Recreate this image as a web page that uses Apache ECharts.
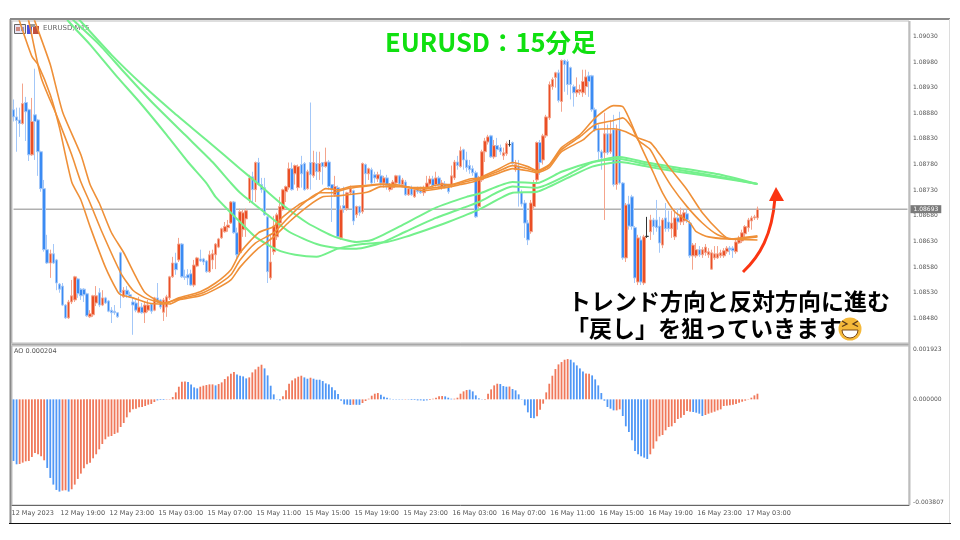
<!DOCTYPE html>
<html>
<head>
<meta charset="utf-8">
<script src="https://cdn.jsdelivr.net/npm/echarts@6/dist/echarts.min.js"></script>
<style>html,body{margin:0;background:#fff}#c{width:960px;height:540px}</style>
</head>
<body>
<div id="c"></div>
<script>
// prices are in points above 1.08000, rows are open, close, low, high
const candles = [
[887,873,864,907],[873,866,805,891],[867,860,834,891],[860,899,858,938],[901,883,826,912],[887,799,787,889],[799,864,797,910],[877,864,789,967],
[867,805,758,869],[805,733,727,807],[733,614,610,750],[614,588,586,643],[588,606,559,614],[606,588,586,625],[594,549,535,596],[547,537,530,549],
[543,506,504,549],[506,481,479,508],[481,512,479,516],[512,524,508,555],[516,561,512,563],[557,528,520,559],[537,524,516,539],[537,526,512,539],
[528,485,483,530],[483,489,481,496],[487,524,483,526],[510,524,504,543],[530,506,502,539],[506,520,504,535],[520,510,508,522],[514,494,492,516],
[496,491,471,502],[494,491,487,506],[491,483,481,491],[608,530,500,610],[522,535,520,541],[535,526,520,543],[526,522,520,532],[512,506,448,520],
[510,496,492,516],[492,502,490,522],[502,491,489,510],[491,506,471,514],[496,506,492,516],[508,494,489,510],[496,520,494,522],[520,512,510,549],
[516,502,498,518],[492,516,475,520],[502,522,483,526],[520,561,516,563],[561,588,559,600],[588,575,565,608],[594,625,590,637],[625,561,559,627],
[561,560,555,575],[565,559,545,576],[567,545,543,575],[545,584,541,594],[582,598,580,600],[596,592,590,614],[596,590,584,598],[592,571,569,594],
[571,604,569,612],[594,606,576,614],[604,625,576,627],[619,635,617,637],[637,655,635,657],[649,659,647,668],[657,662,649,672],[666,707,664,709],
[707,647,645,709],[647,604,594,657],[608,688,604,694],[653,686,639,692],[674,690,639,694],[711,754,705,760],[756,731,707,766],[731,784,707,786],
[784,741,739,793],[741,731,725,754],[735,682,680,754],[678,571,549,680],[559,590,555,643],[610,660,604,680],[639,682,633,686],[666,698,660,717],
[692,731,690,733],[727,737,707,739],[735,772,731,784],[772,731,729,784],[762,778,741,780],[735,776,729,780],[780,762,735,797],[782,731,729,785],
[733,766,731,770],[784,760,731,901],[758,784,754,807],[782,766,750,805],[766,782,750,805],[784,776,741,785],[776,785,774,813],[785,737,731,789],
[741,731,668,742],[721,737,717,758],[735,639,637,739],[637,692,633,700],[700,694,686,737],[694,725,690,727],[725,733,721,739],[729,670,662,731],
[682,698,676,700],[698,686,680,700],[688,782,684,784],[780,762,741,782],[762,772,750,774],[770,744,742,774],[760,754,744,766],[752,760,746,766],
[758,744,739,770],[744,754,735,758],[754,739,731,760],[731,741,727,744],[735,746,731,750],[744,758,742,760],[758,742,739,760],[741,750,737,754],
[746,721,719,750],[721,733,719,737],[733,721,719,739],[717,731,715,735],[731,727,723,737],[729,725,723,737],[725,735,719,739],[735,744,731,758],
[742,752,739,758],[752,739,735,758],[741,754,737,766],[754,739,737,758],[735,744,731,750],[742,737,735,748],[739,727,723,742],[739,758,735,778],
[754,785,750,789],[785,778,770,797],[776,807,774,815],[809,789,770,811],[789,774,766,805],[778,770,762,789],[772,764,758,778],[764,678,676,768],
[698,754,694,758],[750,805,746,809],[805,826,785,832],[824,834,819,838],[836,795,793,838],[795,817,791,828],[817,809,795,832],[813,805,799,819],
[797,803,789,813],[801,821,797,825],[819,819,815,828],[823,782,780,825],[770,780,766,789],[776,725,698,789],[725,703,698,731],[705,666,637,711],
[666,633,623,672],[649,705,645,711],[698,744,694,750],[750,823,746,825],[823,784,760,828],[789,836,780,840],[836,873,832,877],[871,936,867,942],
[932,946,926,950],[950,959,930,961],[959,905,901,965],[903,983,883,985],[983,975,922,985],[981,936,916,985],[969,936,907,971],[932,920,893,936],
[920,926,912,950],[922,926,916,936],[920,942,912,965],[932,951,916,965],[953,942,912,961],[953,887,883,955],[887,848,844,891],[848,805,785,858],
[805,793,770,809],[803,840,672,881],[840,803,799,858],[805,840,801,867],[848,741,737,877],[741,848,731,858],[848,744,741,883],[744,598,594,746],
[598,701,590,705],[703,660,653,719],[717,659,653,721],[657,559,549,660],[551,637,545,643],[633,551,545,641],[549,639,545,643],[640,640,637,678],
[649,672,633,682],[672,659,643,676],[672,657,649,711],[660,627,608,678],[623,672,617,676],[676,655,649,705],[668,655,649,690],[655,666,637,690],
[639,676,633,694],[676,668,653,694],[668,682,662,696],[670,686,662,692],[684,672,666,692],[666,602,598,672],[602,623,575,627],[602,614,598,627],
[614,604,600,621],[604,614,598,619],[608,619,602,625],[604,610,598,617],[576,608,575,614],[598,606,594,621],[598,606,596,621],[602,608,598,614],
[602,612,598,617],[610,617,606,621],[617,614,604,621],[617,612,598,621],[610,629,606,633],[627,633,625,641],[631,647,627,653],[645,659,633,662],
[657,672,649,676],[670,676,653,680],[676,678,672,682],[676,693,672,698]
];

// moving averages, read at their bends as [bar, points above 1.08000]
const maOrange1 = [[1,1078],[2,1059],[6,991],[8,975],[12,916],[15,852],[19,746],[22,711],[25,659],[30,580],[34,532],[35,526],[39,520],[44,510],[49,508],[54,520],[61,532],[66,549],[71,575],[74,608],[80,647],[85,659],[88,678],[93,701],[98,717],[102,733],[106,731],[110,737],[115,739],[120,742],[125,741],[130,735],[135,735],[139,741],[143,741],[149,752],[152,754],[158,770],[163,784],[168,776],[171,768],[175,780],[179,813],[185,838],[190,871],[196,895],[199,893],[201,871],[205,815],[209,764],[212,725],[216,688],[221,666],[223,649],[227,639],[233,635],[243,633]];
const maOrange2 = [[4,1078],[5,1059],[9,950],[14,877],[19,799],[22,746],[25,705],[29,647],[35,569],[39,535],[43,520],[49,510],[54,518],[61,528],[66,543],[71,565],[74,594],[79,627],[85,647],[89,672],[94,701],[100,725],[104,725],[109,733],[114,737],[120,741],[127,737],[134,733],[140,737],[146,744],[150,750],[152,752],[158,766],[163,778],[168,772],[171,766],[175,778],[179,809],[185,834],[190,858],[196,866],[199,871],[202,852],[204,828],[208,809],[211,776],[215,737],[220,698],[225,666],[230,643],[235,635],[243,639]];
const maOrange3 = [[6,1078],[7,1059],[12,975],[16,883],[22,799],[25,741],[28,705],[32,647],[36,608],[40,561],[43,530],[48,512],[51,508],[54,516],[61,524],[66,537],[71,555],[74,580],[80,617],[85,639],[90,668],[96,698],[101,717],[106,719],[112,723],[116,727],[120,737],[128,737],[134,729],[141,735],[146,741],[150,746],[152,750],[158,762],[163,772],[168,768],[171,764],[175,774],[179,805],[186,828],[190,848],[196,850],[200,844],[204,832],[208,823],[210,809],[214,776],[220,731],[225,686],[231,647],[234,635],[243,641]];
const maGreen1 = [[16,1078],[18,1059],[25,1014],[34,950],[41,903],[50,838],[57,785],[63,744],[66,717],[71,686],[74,668],[79,639],[86,614],[92,604],[99,600],[106,616],[114,625],[122,629],[128,639],[135,653],[142,668],[152,692],[163,725],[171,727],[181,754],[189,776],[198,785],[207,776],[217,766],[231,754],[243,742]];
const maGreen2 = [[17,1078],[20,1059],[28,1014],[36,961],[45,903],[56,838],[65,785],[71,744],[74,725],[83,682],[90,649],[99,625],[106,617],[112,616],[120,627],[128,649],[138,676],[148,698],[152,707],[163,737],[171,735],[181,760],[189,784],[198,791],[207,780],[217,770],[231,756],[243,742]];
const maGreen3 = [[19,1078],[22,1059],[32,994],[42,936],[52,883],[63,828],[74,772],[81,737],[88,701],[96,666],[105,639],[112,629],[117,633],[126,659],[138,696],[148,717],[152,723],[163,746],[171,744],[179,766],[189,785],[198,795],[207,784],[217,774],[231,760],[243,742]];

// awesome oscillator in millionths
const aoValues = [
-2220,-2340,-2328,-2280,-2232,-2220,-2076,-1932,-1980,-2052,-2196,-2472,-2832,-3072,-3264,-3324,
-3288,-3276,-3324,-3240,-3072,-2868,-2676,-2484,-2340,-2280,-2124,-1980,-1800,-1608,-1440,-1344,
-1320,-1248,-1200,-996,-852,-648,-468,-360,-336,-288,-276,-240,-192,-168,-96,-36,
-24,-24,-12,-12,84,252,456,636,648,624,540,432,396,456,492,516,
540,540,504,552,612,732,828,924,984,900,852,828,756,792,972,1080,
1176,1248,1116,864,492,180,-12,-36,108,324,564,684,756,816,852,792,
744,780,744,708,708,660,576,540,432,324,192,-48,-180,-192,-204,-192,
-196,-198,-132,-60,24,132,204,228,168,96,60,24,12,-12,-12,-12,
12,-12,-24,-24,-36,-36,-48,-36,-24,24,60,112,120,108,60,24,
24,60,204,288,336,348,288,144,36,12,-12,204,360,504,564,552,
480,456,462,372,324,180,-12,-216,-468,-672,-684,-612,-372,-156,252,564,
852,1092,1260,1344,1428,1452,1428,1332,1224,1116,1008,936,924,864,720,504,
228,-48,-276,-336,-396,-396,-360,-600,-972,-1176,-1476,-1860,-1980,-2052,-2100,-2148,
-1980,-1776,-1512,-1332,-1284,-1116,-996,-972,-852,-708,-660,-564,-420,-444,-456,-480,
-516,-600,-564,-516,-480,-444,-396,-360,-240,-228,-216,-192,-168,-120,-84,-48,
-12,60,144,204
];
// bar ranges the terminal paints blue, all others are red
const aoBlueRuns = [[0,1],[11,15],[18,18],[47,49],[57,60],[66,66],[73,76],[82,87],[95,96],[98,110],[112,113],[120,127],[129,135],[141,143],[149,153],[159,161],[163,170],[182,186],[189,196],[199,207],[222,225]];

const timeLabels = ['12 May 2023','12 May 19:00','12 May 23:00','15 May 03:00','15 May 07:00','15 May 11:00','15 May 15:00','15 May 19:00','15 May 23:00','16 May 03:00','16 May 07:00','16 May 11:00','16 May 15:00','16 May 19:00','16 May 23:00','17 May 03:00'];
const priceTicks = [1.0848,1.0853,1.0858,1.0863,1.0868,1.0873,1.0878,1.0883,1.0888,1.0893,1.0898,1.0903];
const aoTicks = [-0.003807,0,0.001923];
const lastPrice = 1.08693;
const lastAo = 0.000204;

const RED = '#ea4f26', BLUE = '#3b8bf3';
const barSlots = 293; // bars that fit the window, the right part stays empty
const cats = [];
for (let i = 0; i < barSlots; i++) cats.push(i % 16 === 0 && timeLabels[i / 16] ? timeLabels[i / 16] : '');
const hasTime = i => i % 16 === 0 && i / 16 < timeLabels.length;
const pt = p => 1.08 + p / 1e5;
const isBlue = i => aoBlueRuns.some(r => i >= r[0] && i <= r[1]);

const maLine = (data, color, width) => ({
  type: 'line', xAxisIndex: 0, yAxisIndex: 0, showSymbol: false, smooth: 0.2, silent: true,
  lineStyle: { color, width }, data: data.map(d => [d[0], pt(d[1])]), z: 5
});

const sideLabel = { fontFamily: 'DejaVu Sans', fontSize: 6, color: '#555', margin: 4 };
const sideTick = { length: 3, lineStyle: { color: '#444', width: 1 } };

const chart = echarts.init(document.getElementById('c'), null, { renderer: 'canvas' });
chart.setOption({
  animation: false,
  backgroundColor: '#fff',
  title: {
    text: 'EURUSD：15分足', left: 380, top: 25,
    textStyle: { color: '#10e010', fontSize: 25.5, fontWeight: 'bold', fontFamily: 'Noto Sans CJK JP' }
  },
  grid: [
    { left: 12, right: 51, top: 21, height: 322, show: true, backgroundColor: '#fff', borderColor: '#bdbdbd', borderWidth: 1 },
    { left: 12, right: 51, top: 346, height: 159, show: true, backgroundColor: '#fff', borderColor: '#bdbdbd', borderWidth: 1 }
  ],
  xAxis: [
    { type: 'category', data: cats, gridIndex: 0, axisLine: { show: false }, axisTick: { show: false }, axisLabel: { show: false }, splitLine: { show: false } },
    {
      type: 'category', data: cats, gridIndex: 1,
      axisLine: { onZero: false, lineStyle: { color: '#666', width: 1 } },
      axisTick: { length: 2, interval: hasTime, lineStyle: { color: '#666' } },
      axisLabel: {
        interval: hasTime, align: 'left', margin: 5, padding: [0, 0, 0, -2],
        fontFamily: 'DejaVu Sans', fontSize: 6.5, color: '#555', hideOverlap: false
      },
      splitLine: { show: false }
    }
  ],
  yAxis: [
    {
      type: 'value', gridIndex: 0, position: 'right', min: 1.08432, max: 1.0906, scale: true,
      axisLine: { show: false }, axisTick: { ...sideTick, customValues: priceTicks }, splitLine: { show: false },
      axisLabel: { ...sideLabel, customValues: priceTicks, formatter: v => v.toFixed(5) }
    },
    {
      type: 'value', gridIndex: 1, position: 'right', min: -0.003807, max: 0.001923,
      axisLine: { show: false }, axisTick: { ...sideTick, customValues: aoTicks }, splitLine: { show: false },
      axisLabel: {
        ...sideLabel, customValues: aoTicks, formatter: v => v.toFixed(6),
        verticalAlignMaxLabel: 'top', verticalAlignMinLabel: 'bottom'
      }
    }
  ],
  series: [
    // last price line with its tag on the price scale
    {
      type: 'line', xAxisIndex: 0, yAxisIndex: 0, showSymbol: false, silent: true, z: 2,
      data: [[0, lastPrice], [barSlots - 1, lastPrice]],
      lineStyle: { color: '#8a8a8a', width: 1 },
      endLabel: {
        show: true, distance: 3, formatter: lastPrice.toFixed(5), color: '#fff', fontFamily: 'DejaVu Sans', fontSize: 6,
        backgroundColor: '#7a7a7a', padding: [1, 3, 1, 3]
      }
    },
    {
      type: 'candlestick', xAxisIndex: 0, yAxisIndex: 0, barWidth: 3, silent: true, z: 3,
      data: candles.map(c => c.map(pt)),
      itemStyle: { color: RED, color0: BLUE, borderColor: '#f4a48c', borderColor0: '#a3c7f8', borderColorDoji: '#333', borderWidth: 1 }
    },
    maLine(maGreen1, '#74f08c', 2), maLine(maGreen2, '#74f08c', 2), maLine(maGreen3, '#74f08c', 2),
    maLine(maOrange1, '#ef9038', 1.6), maLine(maOrange2, '#ef9038', 1.6), maLine(maOrange3, '#ef9038', 1.6),
    {
      type: 'bar', xAxisIndex: 1, yAxisIndex: 1, barWidth: 1.8, silent: true,
      data: aoValues.map((v, i) => ({ value: v / 1e6, itemStyle: { color: isBlue(i) ? '#4f97f6' : '#f0785a' } }))
    }
  ],
  graphic: [
    // terminal window edges
    { type: 'line', shape: { x1: 10, y1: 19, x2: 950, y2: 19 }, style: { stroke: '#8a8a8a', lineWidth: 2 } },
    { type: 'line', shape: { x1: 10.5, y1: 19, x2: 10.5, y2: 523 }, style: { stroke: '#8a8a8a', lineWidth: 2 } },
    { type: 'line', shape: { x1: 949.5, y1: 19, x2: 949.5, y2: 523 }, style: { stroke: '#dcdcdc', lineWidth: 1 } },
    { type: 'line', shape: { x1: 9, y1: 523.5, x2: 951, y2: 523.5 }, style: { stroke: '#111', lineWidth: 1 } },
    { type: 'line', shape: { x1: 12, y1: 344.5, x2: 910, y2: 344.5 }, style: { stroke: '#a8a8a8', lineWidth: 2 } },
    { type: 'line', shape: { x1: 909.5, y1: 21, x2: 909.5, y2: 505 }, style: { stroke: '#bdbdbd', lineWidth: 2 } },
    // chart window icons
    { type: 'rect', shape: { x: 14.5, y: 24.5, width: 11, height: 9 }, style: { fill: '#e8e4f4', stroke: '#666', lineWidth: 1 } },
    { type: 'rect', shape: { x: 16, y: 27, width: 4, height: 4 }, style: { fill: '#d08a80' } },
    { type: 'rect', shape: { x: 21, y: 27, width: 3, height: 4 }, style: { fill: '#8a90d8' } },
    { type: 'rect', shape: { x: 27, y: 25, width: 5, height: 9 }, style: { fill: '#4a4fe0' } },
    { type: 'rect', shape: { x: 33, y: 26, width: 6, height: 8 }, style: { fill: '#c05040' } },
    { type: 'rect', shape: { x: 30, y: 24, width: 5, height: 3 }, style: { fill: '#999' } },
    { type: 'text', style: { x: 43, y: 25, text: 'EURUSD,M15', font: '7px "DejaVu Sans"', fill: '#666' } },
    { type: 'text', style: { x: 14, y: 348, text: 'AO ' + lastAo.toFixed(6), font: '6.5px "DejaVu Sans"', fill: '#555' } },
    // commentary
    { type: 'text', style: { x: 568, y: 290, text: 'トレンド方向と反対方向に進む', font: 'bold 23px "Noto Sans CJK JP"', fill: '#000' } },
    { type: 'text', style: { x: 566, y: 317, text: '「戻し」を狙っていきます', font: 'bold 23px "Noto Sans CJK JP"', fill: '#000' } },
    // grinning face
    { type: 'circle', shape: { cx: 850, cy: 329, r: 11.5 }, style: { fill: '#f5b93a' } },
    { type: 'sector', shape: { cx: 850, cy: 330, r: 8, r0: 0, startAngle: 0, endAngle: Math.PI }, style: { fill: '#fff', stroke: '#7a4a1a', lineWidth: 1 } },
    { type: 'polyline', shape: { points: [[842, 321], [847, 324], [842, 326.5]] }, style: { fill: 'none', stroke: '#5a3a1a', lineWidth: 1.3 } },
    { type: 'polyline', shape: { points: [[858, 321], [853, 324], [858, 326.5]] }, style: { fill: 'none', stroke: '#5a3a1a', lineWidth: 1.3 } },
    // arrow
    { type: 'bezierCurve', shape: { x1: 743, y1: 272, cpx1: 760, cpy1: 256, cpx2: 772, cpy2: 235, x2: 775, y2: 198 }, style: { fill: 'none', stroke: '#fb3512', lineWidth: 3 } },
    { type: 'polygon', shape: { points: [[776, 187], [769, 201], [784, 201]] }, style: { fill: '#fb3512' } }
  ]
});
</script>
</body>
</html>
